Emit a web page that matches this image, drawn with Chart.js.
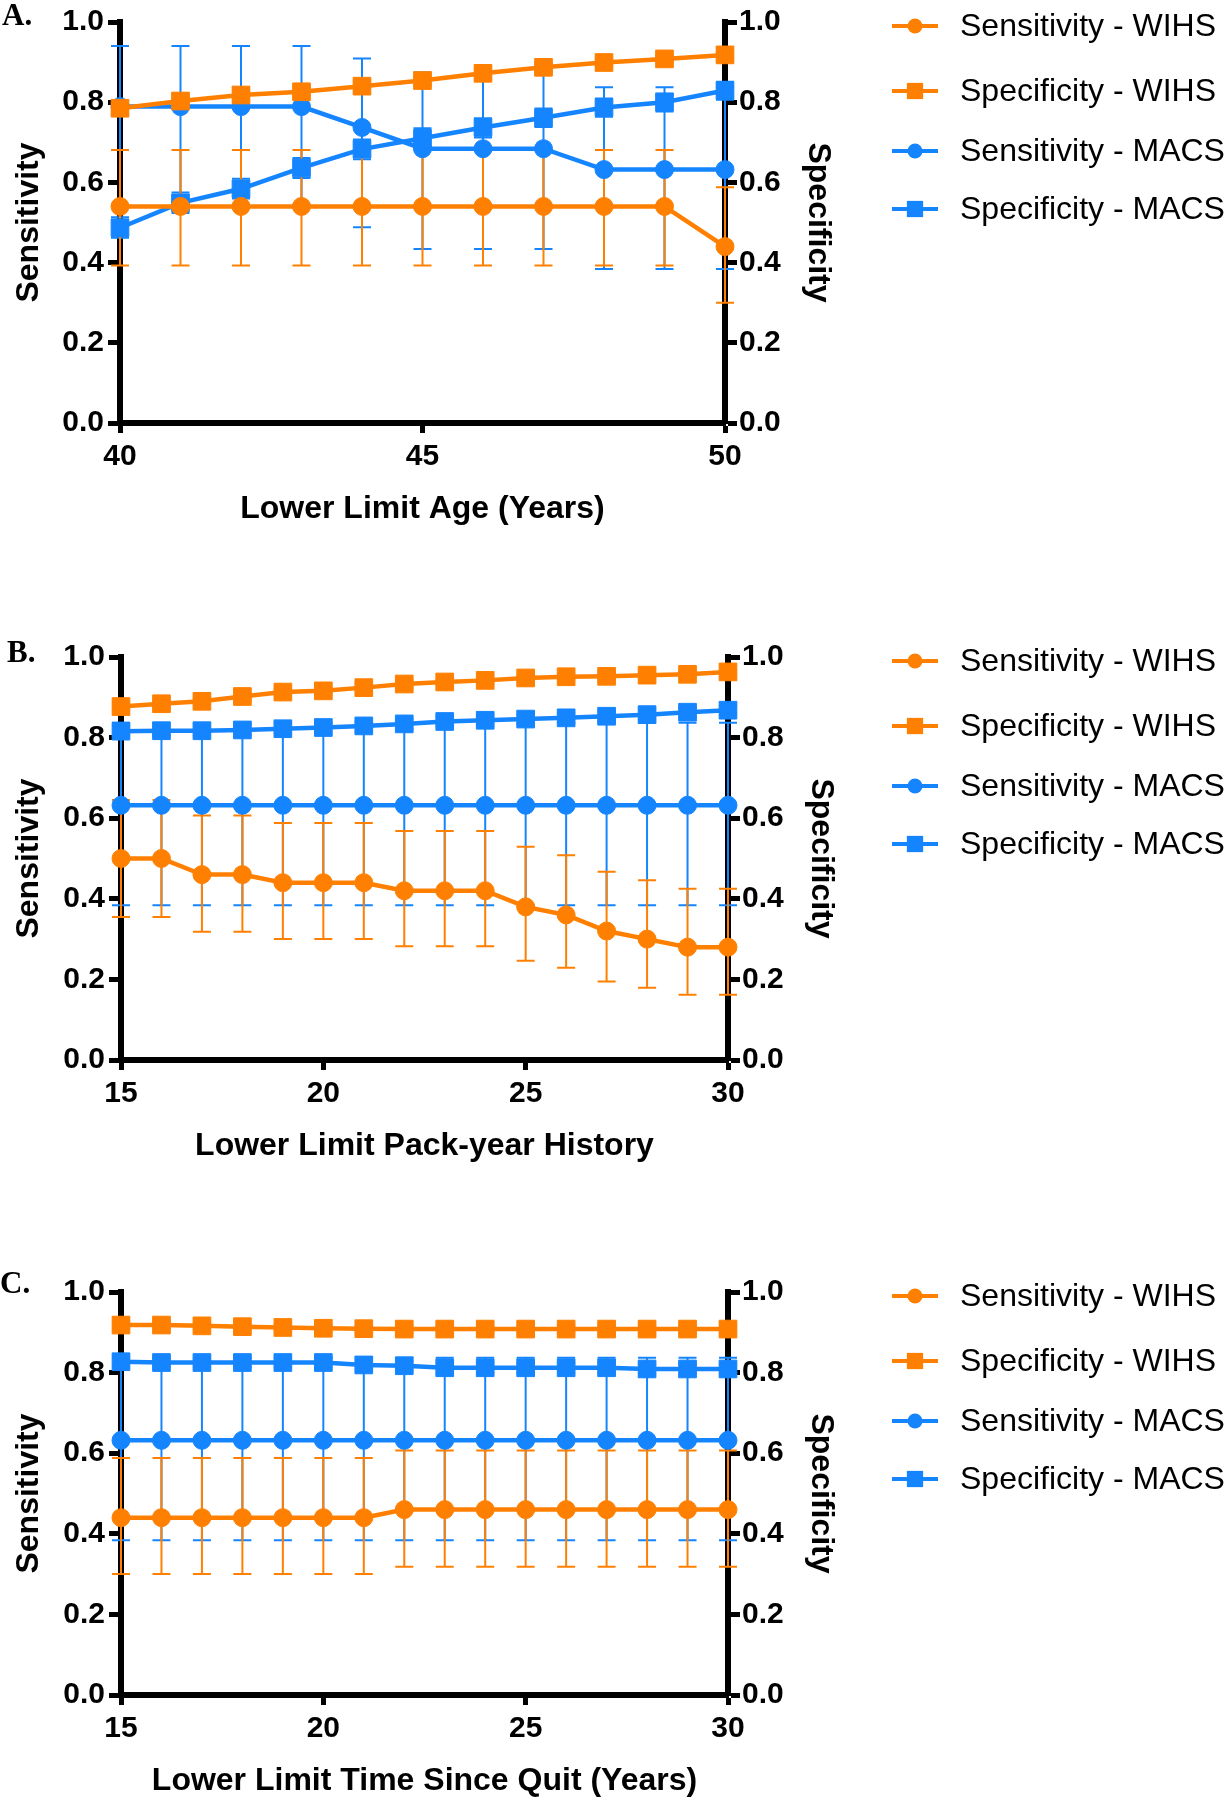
<!DOCTYPE html>
<html>
<head>
<meta charset="utf-8">
<title>Sensitivity and specificity by lower limit</title>
<script src="https://cdn.jsdelivr.net/npm/chart.js@4.4.1/dist/chart.umd.min.js"></script>
<style>
  html, body { margin: 0; padding: 0; background: #fff; width: 1227px; height: 1800px; overflow: hidden; }
  .panel { position: absolute; left: 0; width: 1227px; height: 635px; }
  #panelA { top: 0; }
  #panelB { top: 635px; }
  #panelC { top: 1270px; }
</style>
</head>
<body>
<canvas id="panelA" class="panel" width="1227" height="635"></canvas>
<canvas id="panelB" class="panel" width="1227" height="635"></canvas>
<canvas id="panelC" class="panel" width="1227" height="635"></canvas>
<script>
"use strict";

/* ---------- shared ---------- */
const ORANGE = "#FF8000";
const BLUE = "#1585FF";
const seriesLabels = ["Sensitivity - WIHS", "Specificity - WIHS", "Sensitivity - MACS", "Specificity - MACS"];
const yTicks = [0, 0.2, 0.4, 0.6, 0.8, 1.0];

/* ---------- A. lower limit age ---------- */
const ageX = [40, 41, 42, 43, 44, 45, 46, 47, 48, 49, 50];
const ageTicks = [40, 45, 50];
const ageSensWihs   = [0.54, 0.54, 0.54, 0.54, 0.54, 0.54, 0.54, 0.54, 0.54, 0.54, 0.44];
const ageSensWihsLo = [0.393, 0.393, 0.393, 0.393, 0.393, 0.393, 0.393, 0.393, 0.393, 0.393, 0.300];
const ageSensWihsHi = [0.681, 0.681, 0.681, 0.681, 0.681, 0.681, 0.681, 0.681, 0.681, 0.681, 0.588];
const ageSpecWihs   = [0.785, 0.803, 0.818, 0.826, 0.840, 0.854, 0.872, 0.887, 0.899, 0.908, 0.918];
const ageSpecWihsLo = [0.772, 0.791, 0.806, 0.814, 0.829, 0.843, 0.862, 0.877, 0.890, 0.899, 0.910];
const ageSpecWihsHi = [0.797, 0.815, 0.829, 0.837, 0.851, 0.864, 0.882, 0.896, 0.908, 0.916, 0.926];
const ageSensMacs   = [0.789, 0.789, 0.789, 0.789, 0.737, 0.684, 0.684, 0.684, 0.632, 0.632, 0.632];
const ageSensMacsLo = [0.544, 0.544, 0.544, 0.544, 0.488, 0.434, 0.434, 0.434, 0.384, 0.384, 0.384];
const ageSensMacsHi = [0.940, 0.940, 0.940, 0.940, 0.909, 0.874, 0.874, 0.874, 0.837, 0.837, 0.837];
const ageSpecMacs   = [0.487, 0.549, 0.584, 0.636, 0.683, 0.710, 0.737, 0.761, 0.787, 0.800, 0.829];
const ageSpecMacsLo = [0.462, 0.524, 0.560, 0.611, 0.658, 0.685, 0.712, 0.738, 0.764, 0.777, 0.806];
const ageSpecMacsHi = [0.513, 0.575, 0.609, 0.661, 0.707, 0.735, 0.760, 0.784, 0.809, 0.822, 0.851];

/* ---------- B. lower limit pack-year history ---------- */
const packX = [15, 16, 17, 18, 19, 20, 21, 22, 23, 24, 25, 26, 27, 28, 29, 30];
const packTicks = [15, 20, 25, 30];
const packSensWihs   = [0.50, 0.50, 0.46, 0.46, 0.44, 0.44, 0.44, 0.42, 0.42, 0.42, 0.38, 0.36, 0.32, 0.30, 0.28, 0.28];
const packSensWihsLo = [0.355, 0.355, 0.318, 0.318, 0.300, 0.300, 0.300, 0.282, 0.282, 0.282, 0.246, 0.229, 0.195, 0.179, 0.162, 0.162];
const packSensWihsHi = [0.645, 0.645, 0.607, 0.607, 0.588, 0.588, 0.588, 0.568, 0.568, 0.568, 0.529, 0.508, 0.467, 0.446, 0.425, 0.425];
const packSpecWihs   = [0.877, 0.884, 0.890, 0.902, 0.913, 0.916, 0.924, 0.933, 0.938, 0.942, 0.948, 0.951, 0.952, 0.955, 0.957, 0.963];
const packSpecWihsLo = [0.867, 0.874, 0.880, 0.893, 0.904, 0.907, 0.915, 0.925, 0.930, 0.934, 0.941, 0.944, 0.945, 0.948, 0.950, 0.957];
const packSpecWihsHi = [0.887, 0.894, 0.899, 0.911, 0.921, 0.924, 0.932, 0.940, 0.945, 0.949, 0.954, 0.957, 0.958, 0.961, 0.963, 0.968];
const packSensMacs   = [0.632, 0.632, 0.632, 0.632, 0.632, 0.632, 0.632, 0.632, 0.632, 0.632, 0.632, 0.632, 0.632, 0.632, 0.632, 0.632];
const packSensMacsLo = [0.384, 0.384, 0.384, 0.384, 0.384, 0.384, 0.384, 0.384, 0.384, 0.384, 0.384, 0.384, 0.384, 0.384, 0.384, 0.384];
const packSensMacsHi = [0.837, 0.837, 0.837, 0.837, 0.837, 0.837, 0.837, 0.837, 0.837, 0.837, 0.837, 0.837, 0.837, 0.837, 0.837, 0.837];
const packSpecMacs   = [0.816, 0.817, 0.817, 0.819, 0.822, 0.825, 0.829, 0.834, 0.840, 0.843, 0.846, 0.849, 0.853, 0.857, 0.863, 0.868];
const packSpecMacsLo = [0.804, 0.805, 0.805, 0.807, 0.810, 0.813, 0.817, 0.822, 0.828, 0.831, 0.834, 0.837, 0.841, 0.845, 0.852, 0.857];
const packSpecMacsHi = [0.828, 0.829, 0.829, 0.831, 0.834, 0.837, 0.841, 0.846, 0.852, 0.855, 0.858, 0.861, 0.865, 0.869, 0.874, 0.879];

/* ---------- C. lower limit time since quit ---------- */
const quitX = [15, 16, 17, 18, 19, 20, 21, 22, 23, 24, 25, 26, 27, 28, 29, 30];
const quitTicks = [15, 20, 25, 30];
const quitSensWihs   = [0.44, 0.44, 0.44, 0.44, 0.44, 0.44, 0.44, 0.46, 0.46, 0.46, 0.46, 0.46, 0.46, 0.46, 0.46, 0.46];
const quitSensWihsLo = [0.300, 0.300, 0.300, 0.300, 0.300, 0.300, 0.300, 0.318, 0.318, 0.318, 0.318, 0.318, 0.318, 0.318, 0.318, 0.318];
const quitSensWihsHi = [0.588, 0.588, 0.588, 0.588, 0.588, 0.588, 0.588, 0.607, 0.607, 0.607, 0.607, 0.607, 0.607, 0.607, 0.607, 0.607];
const quitSpecWihs   = [0.918, 0.918, 0.916, 0.914, 0.912, 0.910, 0.909, 0.908, 0.908, 0.908, 0.908, 0.908, 0.908, 0.908, 0.908, 0.908];
const quitSpecWihsLo = [0.909, 0.909, 0.907, 0.905, 0.903, 0.901, 0.900, 0.899, 0.899, 0.899, 0.899, 0.899, 0.899, 0.899, 0.899, 0.899];
const quitSpecWihsHi = [0.926, 0.926, 0.924, 0.922, 0.920, 0.918, 0.917, 0.916, 0.916, 0.916, 0.916, 0.916, 0.916, 0.916, 0.916, 0.916];
const quitSensMacs   = [0.632, 0.632, 0.632, 0.632, 0.632, 0.632, 0.632, 0.632, 0.632, 0.632, 0.632, 0.632, 0.632, 0.632, 0.632, 0.632];
const quitSensMacsLo = [0.384, 0.384, 0.384, 0.384, 0.384, 0.384, 0.384, 0.384, 0.384, 0.384, 0.384, 0.384, 0.384, 0.384, 0.384, 0.384];
const quitSensMacsHi = [0.837, 0.837, 0.837, 0.837, 0.837, 0.837, 0.837, 0.837, 0.837, 0.837, 0.837, 0.837, 0.837, 0.837, 0.837, 0.837];
const quitSpecMacs   = [0.827, 0.825, 0.825, 0.825, 0.825, 0.825, 0.819, 0.817, 0.812, 0.812, 0.812, 0.812, 0.812, 0.809, 0.809, 0.809];
const quitSpecMacsLo = [0.815, 0.813, 0.813, 0.813, 0.813, 0.813, 0.807, 0.805, 0.800, 0.800, 0.800, 0.800, 0.800, 0.797, 0.797, 0.797];
const quitSpecMacsHi = [0.839, 0.837, 0.837, 0.837, 0.837, 0.837, 0.831, 0.829, 0.824, 0.824, 0.824, 0.824, 0.824, 0.821, 0.821, 0.821];

const SANS = "Arial, 'Liberation Sans', Helvetica, sans-serif";
const tickFont = { family: SANS, size: 30, weight: "bold" };
const titleFont = { family: SANS, size: 32, weight: "bold" };

// Vertical error bars with caps, drawn under the lines and markers.
const errorBars = {
  id: "errorBars",
  beforeDatasetsDraw(chart) {
    const ctx = chart.ctx;
    const xs = chart.scales.x;
    const sets = chart.data.datasets;
    for (let d = sets.length - 1; d >= 0; d--) {
      const ds = sets[d];
      const ys = chart.scales[ds.yAxisID];
      ctx.save();
      ctx.strokeStyle = ds.borderColor;
      ctx.lineWidth = 2;
      ds.data.forEach((pt, i) => {
        const px = xs.getPixelForValue(pt.x);
        const lo = ys.getPixelForValue(ds.errLow[i]);
        const hi = ys.getPixelForValue(ds.errHigh[i]);
        ctx.beginPath();
        ctx.moveTo(px, lo); ctx.lineTo(px, hi);
        ctx.moveTo(px - 9, lo); ctx.lineTo(px + 9, lo);
        ctx.moveTo(px - 9, hi); ctx.lineTo(px + 9, hi);
        ctx.stroke();
      });
      ctx.restore();
    }
  }
};

// Prism style legend on the right and the panel letter top-left.
const sideLegend = {
  id: "sideLegend",
  afterDraw(chart, args, opts) {
    const ctx = chart.ctx;
    chart.data.datasets.forEach((ds, i) => {
      const y = opts.rows[i];
      ctx.save();
      ctx.strokeStyle = ds.borderColor;
      ctx.lineWidth = 4;
      ctx.beginPath();
      ctx.moveTo(opts.x0, y);
      ctx.lineTo(opts.x1, y);
      ctx.stroke();
      ctx.fillStyle = ds.borderColor;
      Chart.helpers.drawPoint(ctx, {
        pointStyle: ds.pointStyle,
        radius: ds.pointStyle === "rect" ? 11.5 : 7.5,
        borderWidth: 0,
        rotation: 0
      }, (opts.x0 + opts.x1) / 2, y);
      ctx.fillStyle = "#000";
      ctx.font = "32px " + SANS;
      ctx.textBaseline = "middle";
      ctx.textAlign = "left";
      ctx.fillText(ds.label, opts.textX, y + 1);
      ctx.restore();
    });
    ctx.save();
    ctx.fillStyle = "#000";
    ctx.font = "bold 31px 'Times New Roman', 'Liberation Serif', serif";
    ctx.textBaseline = "alphabetic";
    ctx.fillText(opts.letter, opts.letterX, opts.letterY);
    ctx.restore();
  }
};

const series = (xs, ys, lo, hi, idx, color, style, axis) => ({
  label: seriesLabels[idx],
  data: xs.map((x, i) => ({ x: x, y: ys[i] })),
  errLow: lo,
  errHigh: hi,
  yAxisID: axis,
  borderColor: color,
  backgroundColor: color,
  borderWidth: 4.5,
  tension: 0,
  pointStyle: style,
  pointRadius: style === "rect" ? 12.5 : 9,
  pointBorderWidth: 1,
  pointBorderColor: color,
  pointBackgroundColor: color,
  clip: false
});

const axisY = (position, text, width, tickLen) => ({
  type: "linear",
  position: position,
  min: 0,
  max: 1,
  afterBuildTicks: s => { s.ticks = yTicks.map(v => ({ value: v })); },
  afterFit: s => { s.width = width; },
  border: { color: "#000", width: 6 },
  grid: { drawOnChartArea: false, color: "#000", tickLength: tickLen, tickWidth: 5 },
  ticks: { color: "#000", font: tickFont, padding: position === "left" ? 4 : 2, callback: v => v.toFixed(1) },
  title: { display: true, text: text, color: "#000", font: titleFont, padding: 0 }
});

function buildPanel(id, p) {
  return new Chart(document.getElementById(id), {
    type: "line",
    data: {
      datasets: [
        series(p.x, p.sensWihs, p.sensWihsLo, p.sensWihsHi, 0, ORANGE, "circle", "y"),
        series(p.x, p.specWihs, p.specWihsLo, p.specWihsHi, 1, ORANGE, "rect", "y2"),
        series(p.x, p.sensMacs, p.sensMacsLo, p.sensMacsHi, 2, BLUE, "circle", "y"),
        series(p.x, p.specMacs, p.specMacsLo, p.specMacsHi, 3, BLUE, "rect", "y2")
      ]
    },
    options: {
      responsive: false,
      animation: false,
      events: [],
      layout: {
        padding: {
          left: 10,
          top: 20,
          right: 1227 - p.right - 112,
          bottom: 635 - p.bottom - 105
        }
      },
      plugins: {
        legend: { display: false },
        tooltip: { enabled: false },
        sideLegend: {
          rows: [26, 91, 151, 209], x0: 892, x1: 938, textX: 960,
          letter: p.letter, letterX: p.letterX, letterY: p.letterY
        }
      },
      scales: {
        x: {
          type: "linear",
          min: p.x[0],
          max: p.x[p.x.length - 1],
          afterBuildTicks: s => { s.ticks = p.ticks.map(v => ({ value: v })); },
          afterFit: s => { s.height = 105; },
          border: { color: "#000", width: 6 },
          grid: { drawOnChartArea: false, color: "#000", tickLength: 10, tickWidth: 5 },
          ticks: { color: "#000", font: tickFont, padding: 6, maxRotation: 0, callback: v => String(v) },
          title: { display: true, text: p.title, color: "#000", font: titleFont, padding: 0 }
        },
        y: axisY("left", "Sensitivity", p.left - 10, 12),
        y2: axisY("right", "Specificity", 112, 12)
      }
    },
    plugins: [errorBars, sideLegend]
  });
}

buildPanel("panelA", {
  letter: "A.", letterX: 2, letterY: 25, title: "Lower Limit Age (Years)",
  left: 120, right: 725, bottom: 423,
  x: ageX, ticks: ageTicks,
  sensWihs: ageSensWihs, sensWihsLo: ageSensWihsLo, sensWihsHi: ageSensWihsHi,
  specWihs: ageSpecWihs, specWihsLo: ageSpecWihsLo, specWihsHi: ageSpecWihsHi,
  sensMacs: ageSensMacs, sensMacsLo: ageSensMacsLo, sensMacsHi: ageSensMacsHi,
  specMacs: ageSpecMacs, specMacsLo: ageSpecMacsLo, specMacsHi: ageSpecMacsHi
});

buildPanel("panelB", {
  letter: "B.", letterX: 7, letterY: 27, title: "Lower Limit Pack-year History",
  left: 121, right: 728, bottom: 425,
  x: packX, ticks: packTicks,
  sensWihs: packSensWihs, sensWihsLo: packSensWihsLo, sensWihsHi: packSensWihsHi,
  specWihs: packSpecWihs, specWihsLo: packSpecWihsLo, specWihsHi: packSpecWihsHi,
  sensMacs: packSensMacs, sensMacsLo: packSensMacsLo, sensMacsHi: packSensMacsHi,
  specMacs: packSpecMacs, specMacsLo: packSpecMacsLo, specMacsHi: packSpecMacsHi
});

buildPanel("panelC", {
  letter: "C.", letterX: 0, letterY: 23, title: "Lower Limit Time Since Quit (Years)",
  left: 121, right: 728, bottom: 425,
  x: quitX, ticks: quitTicks,
  sensWihs: quitSensWihs, sensWihsLo: quitSensWihsLo, sensWihsHi: quitSensWihsHi,
  specWihs: quitSpecWihs, specWihsLo: quitSpecWihsLo, specWihsHi: quitSpecWihsHi,
  sensMacs: quitSensMacs, sensMacsLo: quitSensMacsLo, sensMacsHi: quitSensMacsHi,
  specMacs: quitSpecMacs, specMacsLo: quitSpecMacsLo, specMacsHi: quitSpecMacsHi
});
</script>
</body>
</html>
